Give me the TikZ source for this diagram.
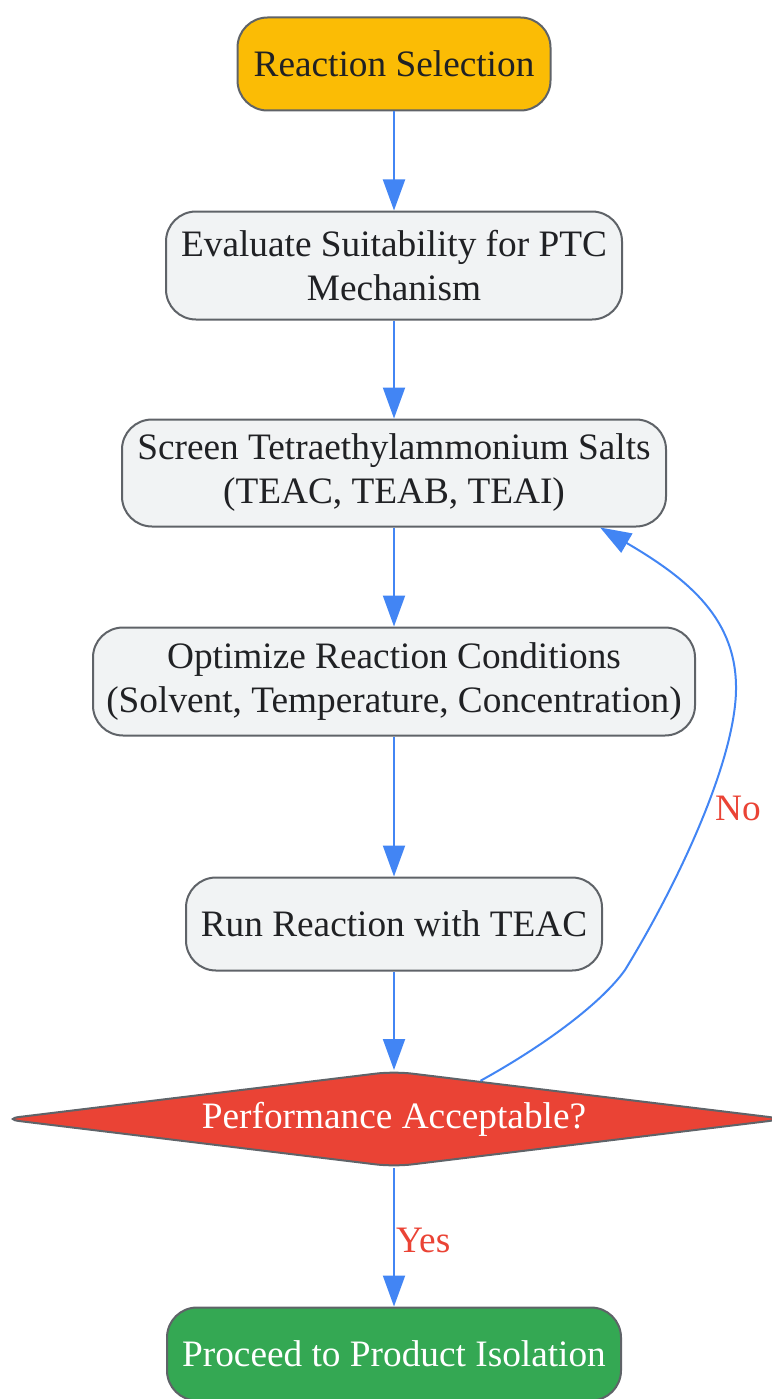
\documentclass[tikz,border=0pt]{standalone}
\usepackage{fontspec}
\setmainfont{Liberation Serif}
\usepackage{tikz}
\usetikzlibrary{positioning, shapes.geometric, arrows.meta, calc}

\definecolor{flowblue}{HTML}{4285F4}
\definecolor{edgegray}{HTML}{5F6368}
\definecolor{boxgray}{HTML}{F1F3F4}
\definecolor{textdark}{HTML}{202124}
\definecolor{startamber}{HTML}{FBBC05}
\definecolor{checkred}{HTML}{EA4335}
\definecolor{endgreen}{HTML}{34A853}

\begin{document}
\begin{tikzpicture}[x=1pt, y=-1pt,
    box/.style={draw=edgegray, line width=2pt, rounded corners=30pt, fill=boxgray, text=textdark,
                align=center, inner sep=0pt, font=\fontsize{37.3}{44}\selectfont},
    flow/.style={draw=flowblue, line width=2pt, -{Triangle[length=31pt, width=22pt]}},
    lbl/.style={text=checkred, inner sep=1pt, font=\fontsize{37.3}{44}\selectfont}]
    \useasboundingbox (0,0) rectangle (771,1399);

    % Nodes
    \node[box, fill=startamber, minimum width=313, minimum height=93] (select) at (394,64) {Reaction Selection};
    \node[box, minimum width=456, minimum height=108] (evaluate) at (394,265.5) {Evaluate Suitability for PTC\\Mechanism};
    \node[box, minimum width=544, minimum height=107] (screen) at (394,473) {Screen Tetraethylammonium Salts\\(TEAC, TEAB, TEAI)};
    \node[box, minimum width=602, minimum height=108] (optimize) at (394,681.5) {Optimize Reaction Conditions\\(Solvent, Temperature, Concentration)};
    \node[box, minimum width=416, minimum height=93] (run) at (394,924) {Run Reaction with TEAC};
    \node[box, diamond, aspect=8.2, rounded corners=18pt, fill=checkred, text=white,
          minimum width=784, minimum height=96] (check) at (394,1119) {Performance Acceptable?};
    \node[box, fill=endgreen, text=white, minimum width=454, minimum height=93] (proceed) at (394,1354) {Proceed to Product Isolation};
    \node[lbl] (nolabel) at (738,808) {No};

    % Arrows
    \foreach \a/\b in {select/evaluate, evaluate/screen, screen/optimize, optimize/run, run/check}
    \draw[flow] (\a) -- (\b);
    \draw[flow] (check) -- node[lbl, anchor=west, pos=0.52] (yeslabel) {Yes} (proceed);
    \coordinate (loopstart) at ($(check.north)!0.22!(check.east)$);
    \coordinate (looptip) at ($(screen.south)!0.755!(screen.south east)$);
    \draw[flow] (loopstart) .. controls (540,1048) and (600,1005) .. (625,970)
        .. controls (680,880) and (735,760) .. (736,690)
        .. controls (737,620) and (690,580) .. (looptip);
\end{tikzpicture}
\end{document}
